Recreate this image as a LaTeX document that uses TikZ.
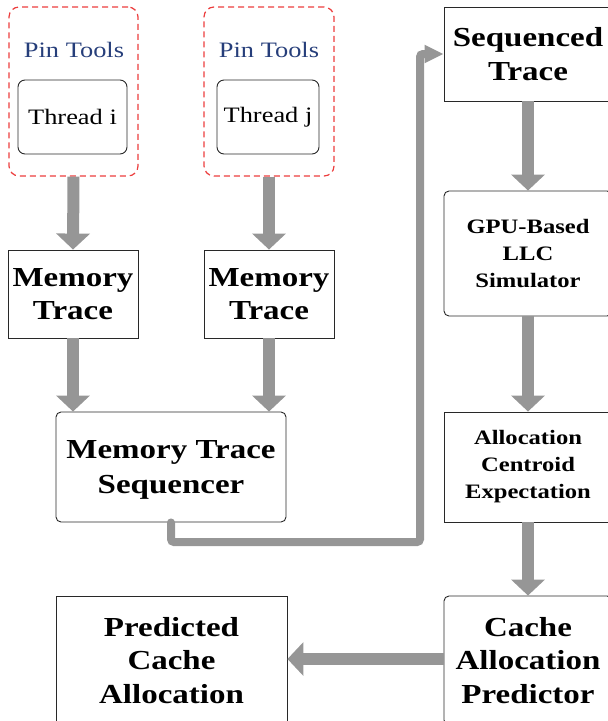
\documentclass[tikz,border=0pt]{standalone}
\usepackage{fontspec}
\setmainfont{Liberation Serif}[FakeStretch=1.2]
\usetikzlibrary{arrows.meta}

\definecolor{flowgray}{RGB}{150,150,150}
\definecolor{pinred}{RGB}{236,62,62}
\definecolor{pinblue}{RGB}{38,62,122}
\definecolor{edge}{RGB}{40,40,40}

\tikzset{
  box/.style={draw=edge, line width=0.9pt, inner sep=0pt, align=center,
              font=\bfseries\fontsize{27.5}{33.5}\selectfont},
  rbox/.style={box, rounded corners=5pt},
  smallbox/.style={font=\bfseries\fontsize{20.5}{27}\selectfont},
  bigtext/.style={inner sep=0pt, align=center,
                  font=\bfseries\fontsize{27.5}{35}\selectfont},
  pinbox/.style={draw=pinred, line width=1.2pt, dash pattern=on 6pt off 4pt,
                 rounded corners=10pt, inner sep=0pt},
  thrbox/.style={draw=edge, line width=0.9pt, rounded corners=7pt, inner sep=0pt,
                 font=\fontsize{22}{26}\selectfont},
  pinlabel/.style={text=pinblue, font=\fontsize{22}{26}\selectfont, inner sep=0pt},
  flow/.style={draw=flowgray, line width=12pt,
               -{Triangle[width=33pt,length=16pt]}},
  conn/.style={draw=flowgray, line width=8pt, line cap=round, rounded corners=3pt,
               -{Triangle[width=17pt,length=19pt]}},
}

\begin{document}
\begin{tikzpicture}[x=1pt,y=-1pt]
  \useasboundingbox (0,0) rectangle (608,721);

  % thread instrumentation groups
  \node[pinbox, minimum width=129pt, minimum height=169pt] (pin1) at (73.5,91.5) {};
  \node[pinbox, minimum width=130pt, minimum height=169pt] (pin2) at (269,91.5) {};
  \node[pinlabel] (pl1) at (74,50) {Pin Tools};
  \node[pinlabel] (pl2) at (269,50) {Pin Tools};
  \node[thrbox, minimum width=109pt, minimum height=74pt] (thr1) at (72.5,117) {Thread i};
  \node[thrbox, minimum width=102pt, minimum height=74pt] (thr2) at (268,117) {Thread j};

  % per-thread traces
  \node[box, minimum width=130pt, minimum height=88pt] (mt1) at (73,294) {Memory\\Trace};
  \node[box, minimum width=130pt, minimum height=88pt] (mt2) at (269,294) {Memory\\Trace};

  % sequencer
  \node[rbox, minimum width=230pt, minimum height=110pt] (seq) at (171,467) {};
  \node[bigtext] (seqtext) at (171,470) {Memory Trace\\Sequencer};

  % right-hand pipeline
  \node[box, minimum width=168pt, minimum height=94pt] (st) at (528,54) {Sequenced\\Trace};
  \node[rbox, smallbox, minimum width=168pt, minimum height=125pt] (gpu) at (528,253.5) {GPU-Based\\LLC\\Simulator};
  \node[box, smallbox, minimum width=168pt, minimum height=110pt] (ace) at (528,467) {Allocation\\Centroid\\Expectation};
  \node[rbox, minimum width=168pt, minimum height=129pt] (cap) at (528,660.5) {Cache\\Allocation\\Predictor};
  \node[box, minimum width=231pt, minimum height=129pt] (pred) at (171.5,660.5) {Predicted\\Cache\\Allocation};

  % flow arrows
  \draw[flow] (pin1.south) -- (mt1.north);
  \draw[flow] (pin2.south) -- (mt2.north);
  \draw[flow] (mt1.south) -- (mt1.south |- seq.north);
  \draw[flow] (mt2.south) -- (mt2.south |- seq.north);
  \draw[flow] (st.south) -- (gpu.north);
  \draw[flow] (gpu.south) -- (ace.north);
  \draw[flow] (ace.south) -- (cap.north);
  \draw[flow] (cap.west |- 0,659) -- (pred.east |- 0,659);

  % feedback route from the sequencer to the sequenced trace
  \coordinate (bend) at (420,542);
  \draw[conn] (seq.south) |- (bend) |- (st.west);
\end{tikzpicture}
\end{document}
